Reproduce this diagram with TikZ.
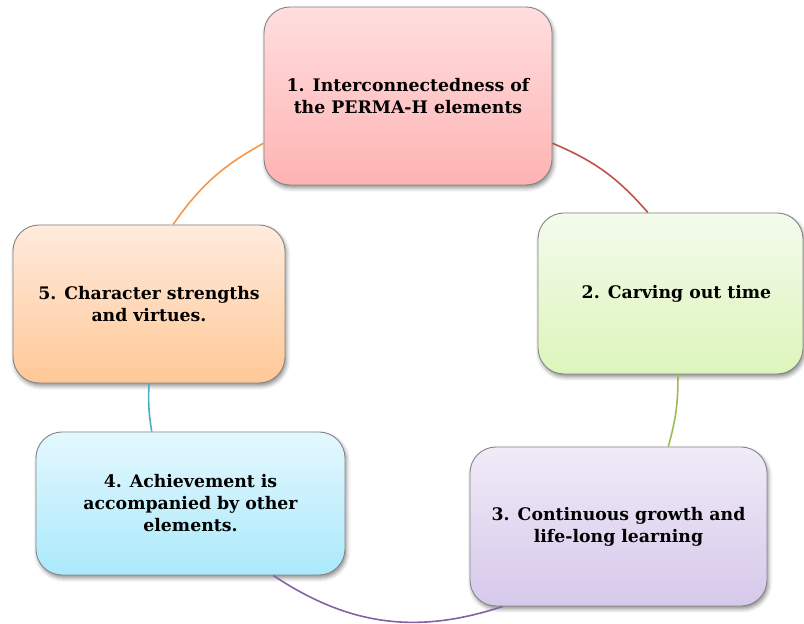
\documentclass[tikz,border=0pt]{standalone}
\usepackage{fontspec}
\setmainfont{DejaVu Serif}
\usetikzlibrary{shadows.blur,calc}
\definecolor{boxline}{HTML}{858585}
\definecolor{p1t}{HTML}{FFDEDE}\definecolor{p1b}{HTML}{FFB3B3}
\definecolor{p2t}{HTML}{F4FBEC}\definecolor{p2b}{HTML}{DDF5BB}
\definecolor{p3t}{HTML}{F0EBF8}\definecolor{p3b}{HTML}{D6C8EA}
\definecolor{p4t}{HTML}{E4F8FE}\definecolor{p4b}{HTML}{AAE9FB}
\definecolor{p5t}{HTML}{FFEBDD}\definecolor{p5b}{HTML}{FFC896}
\definecolor{l1}{HTML}{C0504D}\definecolor{l2}{HTML}{9BBB59}
\definecolor{l3}{HTML}{8064A2}\definecolor{l4}{HTML}{4BACC6}
\definecolor{l5}{HTML}{F79646}
\begin{document}
\begin{tikzpicture}[x=1pt,y=1pt,
  box/.style={draw=boxline, line width=0.9pt, rounded corners=26pt, inner sep=0pt,
    align=center, text=black, font=\bfseries\fontsize{17.3}{22}\selectfont,
    blur shadow={shadow xshift=1.5pt, shadow yshift=-3pt, shadow blur radius=4pt, shadow opacity=45}},
  link/.style={line width=1.6pt}]
\useasboundingbox (0,0) rectangle (804,624);
\node[box, minimum width=288pt, minimum height=178pt, top color=p1t, bottom color=p1b] (b1) at (408,528)
  {1. Interconnectedness of\\the PERMA-H elements};
\node[box, minimum width=265pt, minimum height=161pt, top color=p2t, bottom color=p2b] (b2) at (670.5,330.5)
  {\hspace*{12pt}2. Carving out time};
\node[box, minimum width=297pt, minimum height=159pt, top color=p3t, bottom color=p3b] (b3) at (618.5,97.5)
  {3. Continuous growth and\\life-long learning};
\node[box, minimum width=309pt, minimum height=143pt, top color=p4t, bottom color=p4b] (b4) at (190.5,120.5)
  {4. Achievement is\\accompanied by other\\elements.};
\node[box, minimum width=272pt, minimum height=158pt, top color=p5t, bottom color=p5b] (b5) at (149,320)
  {5. Character strengths\\and virtues.};
% connector end points on the box borders
\coordinate (a1s) at ($(b1.north east)!0.764!(b1.south east)$);
\coordinate (a1e) at ($(b2.north west)!0.415!(b2.north east)$);
\coordinate (a2s) at ($(b2.south west)!0.528!(b2.south east)$);
\coordinate (a2e) at ($(b3.north west)!0.667!(b3.north east)$);
\coordinate (a3s) at ($(b3.south west)!0.111!(b3.south east)$);
\coordinate (a3e) at ($(b4.south west)!0.767!(b4.south east)$);
\coordinate (a4s) at ($(b4.north west)!0.375!(b4.north east)$);
\coordinate (a4e) at ($(b5.south west)!0.5!(b5.south east)$);
\coordinate (a5s) at ($(b5.north west)!0.588!(b5.north east)$);
\coordinate (a5e) at ($(b1.north west)!0.764!(b1.south west)$);
\draw[link, l1] (a1s) to[bend left=13] (a1e);
\draw[link, l2] (a2s) to[bend left=8] (a2e);
\draw[link, l3] (a3s) to[bend left=26] (a3e);
\draw[link, l4] (a4s) to[bend left=6] (a4e);
\draw[link, l5] (a5s) to[bend left=13] (a5e);
\end{tikzpicture}
\end{document}
